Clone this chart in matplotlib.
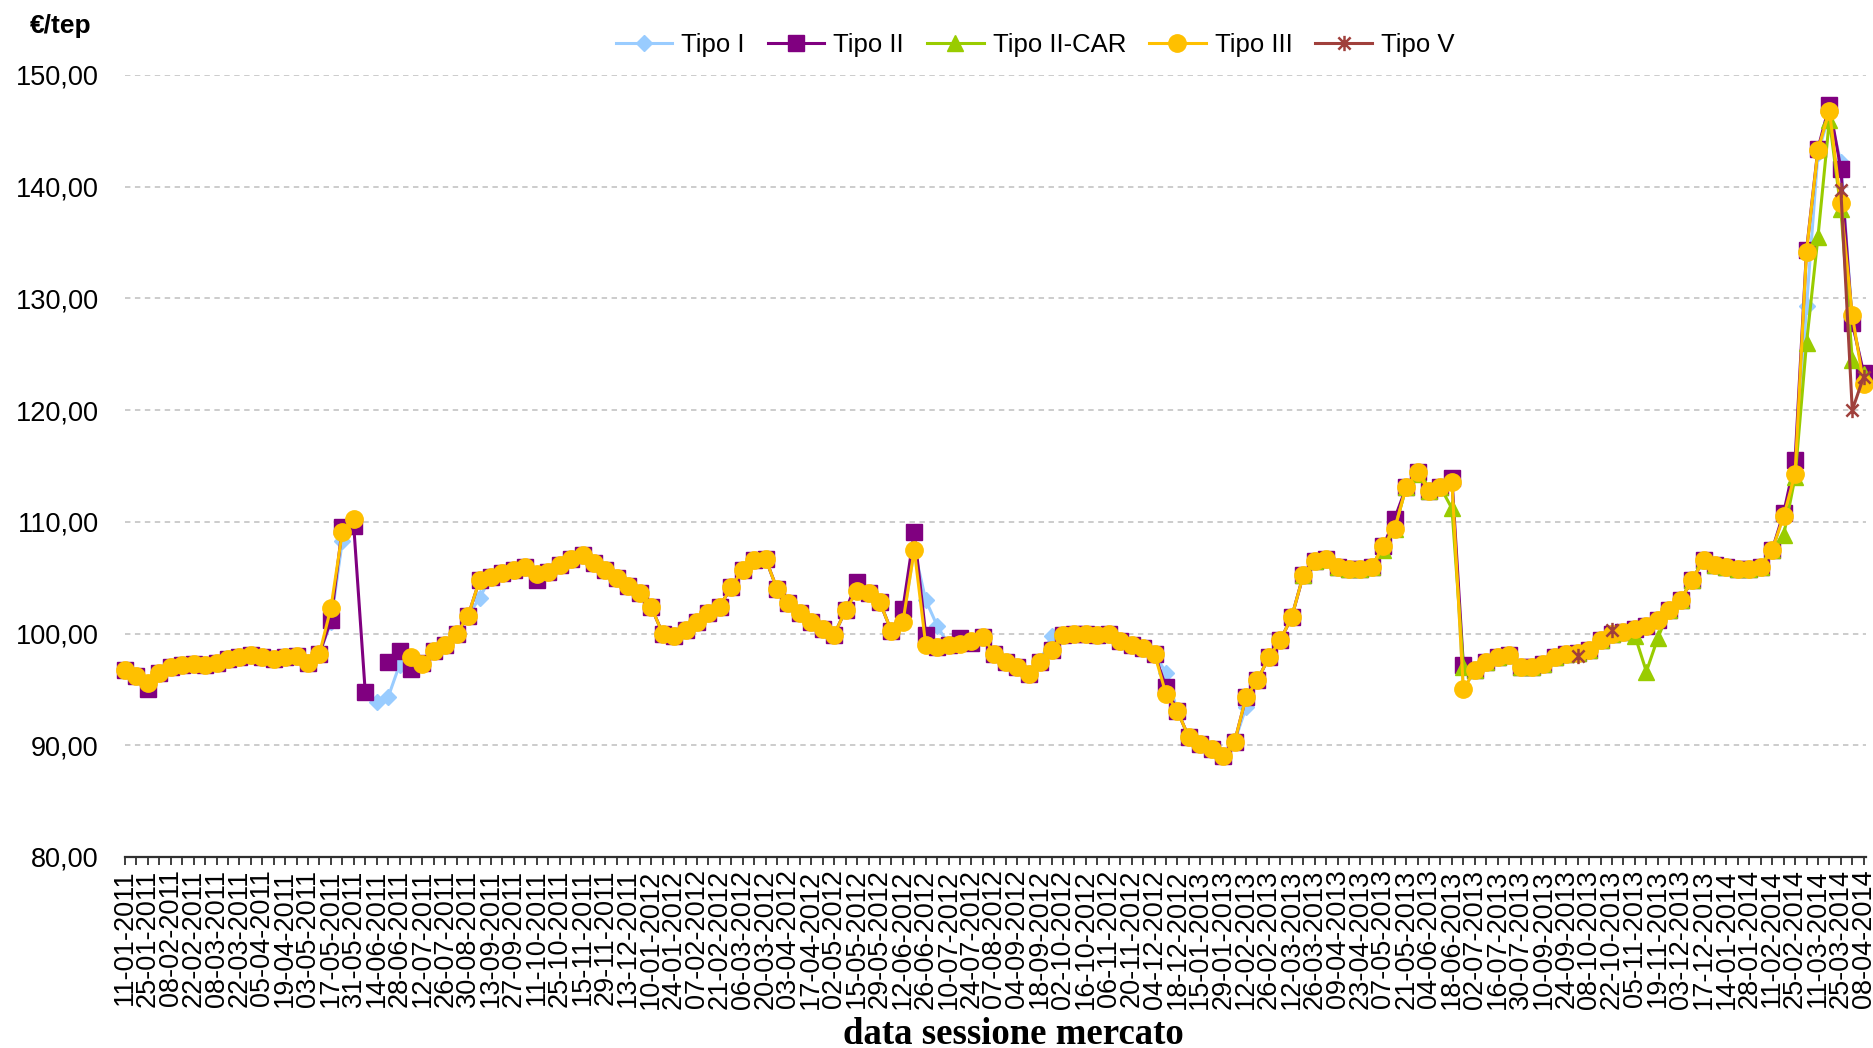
import matplotlib
matplotlib.use("Agg")
import matplotlib.pyplot as plt
import numpy as np
from matplotlib.path import Path

plt.rcParams['font.family'] = ['Liberation Sans', 'DejaVu Sans']

# ---- data ---------------------------------------------------------------
session_labels = [
    "11-01-2011", "25-01-2011", "08-02-2011", "22-02-2011", "08-03-2011",
    "22-03-2011", "05-04-2011", "19-04-2011", "03-05-2011", "17-05-2011",
    "31-05-2011", "14-06-2011", "28-06-2011", "12-07-2011", "26-07-2011",
    "30-08-2011", "13-09-2011", "27-09-2011", "11-10-2011", "25-10-2011",
    "15-11-2011", "29-11-2011", "13-12-2011", "10-01-2012", "24-01-2012",
    "07-02-2012", "21-02-2012", "06-03-2012", "20-03-2012", "03-04-2012",
    "17-04-2012", "02-05-2012", "15-05-2012", "29-05-2012", "12-06-2012",
    "26-06-2012", "10-07-2012", "24-07-2012", "07-08-2012", "04-09-2012",
    "18-09-2012", "02-10-2012", "16-10-2012", "06-11-2012", "20-11-2012",
    "04-12-2012", "18-12-2012", "15-01-2013", "29-01-2013", "12-02-2013",
    "26-02-2013", "12-03-2013", "26-03-2013", "09-04-2013", "23-04-2013",
    "07-05-2013", "21-05-2013", "04-06-2013", "18-06-2013", "02-07-2013",
    "16-07-2013", "30-07-2013", "10-09-2013", "24-09-2013", "08-10-2013",
    "22-10-2013", "05-11-2013", "19-11-2013", "03-12-2013", "17-12-2013",
    "14-01-2014", "28-01-2014", "11-02-2014", "25-02-2014", "11-03-2014",
    "25-03-2014", "08-04-2014",
]

tipo_III = [
    96.7, 96.2, 95.6, 96.5, 97.0, 97.2, 97.3, 97.2, 97.4, 97.7,
    97.9, 98.1, 97.9, 97.7, 97.9, 98.0, 97.4, 98.2, 102.3, 109.1,
    110.3, None, None, None, None, 97.9, 97.3, 98.4, 99.0, 100.0,
    101.6, 104.8, 105.1, 105.4, 105.7, 106.0, 105.3, 105.5, 106.1, 106.7,
    107.0, 106.3, 105.7, 105.0, 104.3, 103.6, 102.4, 100.0, 99.8, 100.3,
    101.0, 101.8, 102.4, 104.2, 105.7, 106.6, 106.7, 104.0, 102.7, 101.8,
    101.0, 100.4, 99.9, 102.1, 103.8, 103.6, 102.8, 100.2, 101.0, 107.5,
    99.0, 98.8, 99.0, 99.1, 99.3, 99.7, 98.2, 97.5, 97.0, 96.4,
    97.5, 98.5, 99.9, 100.0, 100.0, 99.9, 100.0, 99.3, 99.0, 98.7,
    98.2, 94.6, 93.1, 90.7, 90.1, 89.7, 89.0, 90.3, 94.3, 95.8,
    97.9, 99.4, 101.5, 105.2, 106.5, 106.7, 106.0, 105.8, 105.8, 106.0,
    107.8, 109.4, 113.1, 114.5, 112.8, 113.1, 113.6, 95.0, 96.7, 97.5,
    97.9, 98.1, 97.0, 97.0, 97.3, 97.9, 98.2, 98.3, 98.5, 99.4,
    100.0, 100.1, 100.4, 100.7, 101.2, 102.1, 103.0, 104.8, 106.6, 106.1,
    106.0, 105.8, 105.8, 106.0, 107.5, 110.5, 114.3, 134.2, 143.3, 146.8,
    138.5, 128.5, 122.3,
]

tipo_II = [
    96.7, 96.2, 95.0, 96.5, 97.0, 97.2, 97.3, 97.2, 97.4, 97.7,
    97.9, 98.1, 97.9, 97.7, 97.9, 98.0, 97.4, 98.2, 101.2, 109.5,
    109.6, 94.8, None, 97.5, 98.4, 96.8, 97.4, 98.4, 99.0, 100.0,
    101.6, 104.8, 105.1, 105.4, 105.7, 106.0, 104.8, 105.5, 106.1, 106.7,
    107.0, 106.3, 105.7, 105.0, 104.3, 103.6, 102.4, 100.0, 99.8, 100.3,
    101.0, 101.8, 102.4, 104.2, 105.7, 106.6, 106.7, 104.0, 102.7, 101.8,
    101.0, 100.4, 99.9, 102.1, 104.6, 103.6, 102.8, 100.2, 102.2, 109.1,
    99.9, 98.8, 99.0, 99.6, 99.2, 99.7, 98.2, 97.5, 97.0, 96.4,
    97.5, 98.5, 99.9, 100.0, 100.0, 99.9, 100.0, 99.3, 99.0, 98.7,
    98.2, 95.2, 93.1, 90.7, 90.1, 89.7, 89.0, 90.3, 94.3, 95.8,
    97.9, 99.4, 101.5, 105.2, 106.5, 106.7, 106.0, 105.8, 105.8, 106.0,
    107.8, 110.3, 113.1, 114.5, 112.8, 113.1, 113.9, 97.2, 96.7, 97.5,
    97.9, 98.1, 97.0, 97.0, 97.3, 97.9, 98.2, 98.3, 98.5, 99.4,
    100.0, 100.1, 100.4, 100.7, 101.2, 102.1, 103.0, 104.8, 106.6, 106.1,
    106.0, 105.8, 105.8, 106.0, 107.5, 110.8, 115.5, 134.3, 143.4, 147.3,
    141.6, 127.8, 123.3,
]

tipo_I = [
    96.7, 96.2, 95.6, 96.5, 97.0, 97.2, 97.3, 97.2, 97.4, 97.7,
    97.9, 98.1, 97.9, 97.7, 97.9, 98.0, 97.4, 98.2, 101.0, 108.3,
    None, None, 93.9, 94.3, 97.2, 97.9, 97.3, 98.4, 99.0, 100.0,
    101.6, 103.2, 105.1, 105.4, 105.7, 106.0, 105.3, 105.5, 106.1, 106.7,
    107.0, 106.3, 105.7, 105.0, 104.3, 103.6, 102.4, 100.0, 99.8, 100.3,
    101.0, 101.8, 102.4, 104.2, 105.7, 106.6, 106.7, 104.0, 102.7, 101.8,
    101.0, 100.4, 99.9, 102.1, 103.8, 103.6, 102.8, 100.2, 101.0, 107.5,
    103.0, 100.7, 99.0, 99.1, 99.3, 99.7, 98.2, 97.5, 97.0, 96.4,
    97.5, 99.8, 99.9, 100.0, 100.0, 99.9, 100.0, 99.3, 99.0, 98.7,
    98.2, 96.5, 93.1, 90.7, 90.1, 89.7, 89.0, 90.3, 93.4, 95.8,
    97.9, 99.4, 101.5, 105.2, 106.5, 106.7, 106.0, 105.8, 105.8, 106.0,
    107.8, 109.4, 113.1, 114.5, 112.8, 113.1, 113.6, 95.0, 96.7, 97.5,
    97.9, 98.1, 97.0, 97.0, 97.3, 97.9, 98.2, 98.3, 98.5, 99.4,
    100.0, 100.1, 100.4, 100.7, 101.2, 102.1, 103.0, 104.8, 106.6, 106.1,
    106.0, 105.8, 105.8, 106.0, 107.5, 110.5, 114.3, 129.3, 143.0, 146.5,
    142.2, 128.0, 123.0,
]

tipo_II_CAR = [None] * 103 + [
    105.2, 106.5, 106.7, 106.0, 105.8, 105.8, 106.0,
    107.5, 109.4, 113.1, 114.3, 112.8, 113.1, 111.2, 97.0, 96.7, 97.5,
    97.9, 98.1, 97.0, 97.0, 97.3, 97.9, 98.2, 98.3, 98.5, 99.4,
    100.0, 100.1, 99.8, 96.6, 99.6, 102.1, 103.0, 104.8, 106.6, 106.1,
    106.0, 105.8, 105.8, 106.0, 107.5, 108.8, 114.0, 126.0, 135.5, 146.0,
    138.0, 124.5, 123.2,
]

tipo_V = [None] * 127 + [98.0, None, None, 100.3] + [None] * 19 + [139.7, 120.0, 123.0]

y_ticks = [80, 90, 100, 110, 120, 130, 140, 150]

# ---- figure -------------------------------------------------------------
W, H = 1874, 1048
fig = plt.figure(figsize=(W / 100, H / 100), dpi=100)
ax = fig.add_axes([125 / W, 1 - 857 / H, (1866 - 125) / W, (857 - 75) / H])


def arr(values):
    return np.array([np.nan if v is None else v for v in values], dtype=float)


n = len(tipo_III)
x = np.arange(n)

star = Path([(-1, -1), (1, 1), (-1, 1), (1, -1), (0, -1.25), (0, 1.25)],
            [Path.MOVETO, Path.LINETO, Path.MOVETO, Path.LINETO, Path.MOVETO, Path.LINETO])

series = [
    ("Tipo I", tipo_I, "#99CCFF", "D", 8.5),
    ("Tipo II", tipo_II, "#800080", "s", 11.5),
    ("Tipo II-CAR", tipo_II_CAR, "#99CC00", "^", 11.5),
    ("Tipo III", tipo_III, "#FFC000", "o", 12.5),
    ("Tipo V", tipo_V, "#A0403C", star, 11),
]

for name, vals, color, marker, ms in series:
    if name == "Tipo V":
        ax.plot(x, arr(vals), color=color, lw=2.2, marker=marker, ms=ms,
                mfc="none", mec=color, mew=1.8, label=name, clip_on=False)
    else:
        ax.plot(x, arr(vals), color=color, lw=2.2, marker=marker, ms=ms,
                mfc=color, mec=color, label=name, clip_on=False)

ax.set_ylim(80, 150)
ax.set_xlim(0, n - 1 + 0.2)

ax.set_yticks(y_ticks)
ax.set_yticklabels([f"{v:.2f}".replace(".", ",") for v in y_ticks])
ax.yaxis.grid(True, linestyle=(0, (3, 2.5)), color="#C8C8C8", lw=1.3)
ax.set_axisbelow(True)

ax.set_xticks(x)
ax.set_xticklabels([session_labels[i // 2] if i % 2 == 0 else "" for i in x])

for s in ["left", "right", "top"]:
    ax.spines[s].set_visible(False)
ax.spines["bottom"].set_color("#303030")
ax.spines["bottom"].set_linewidth(1.6)

ax.tick_params(axis="y", length=0, pad=19, labelsize=19.5, colors="#000000")
ax.tick_params(axis="x", length=6, width=1.3, direction="out", color="#303030",
               labelsize=19.5, labelrotation=90, pad=3)

fig.text(30 / W, 1 - 26 / H, "€/tep", fontsize=19, fontweight="bold",
         ha="left", va="center")

fig.legend(loc="center", bbox_to_anchor=(1035 / W, 1 - 45 / H), ncol=5,
           frameon=False, fontsize=18.5, handlelength=2.2, handletextpad=0.35,
           columnspacing=0.9)

fig.text(1013 / W, 1 - 1034 / H, "data sessione mercato", fontsize=26.5,
         fontweight="bold", family=["Liberation Serif", "DejaVu Serif"],
         ha="center", va="center")

fig.savefig("out.png", dpi=100)
